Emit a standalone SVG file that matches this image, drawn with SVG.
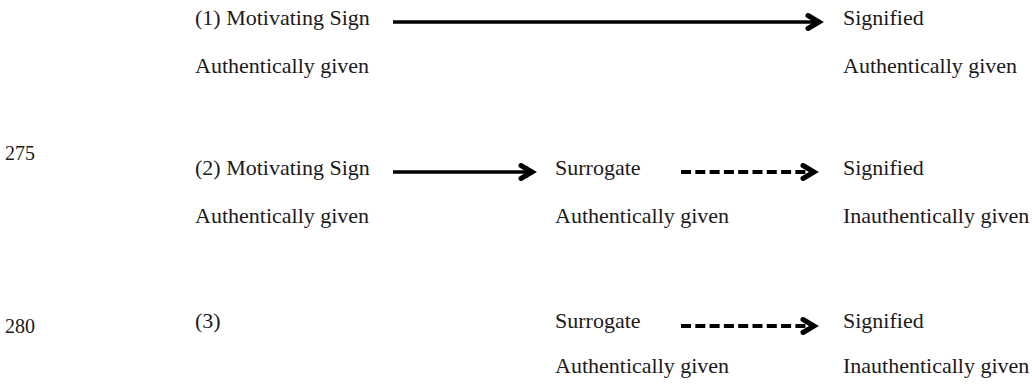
<svg xmlns="http://www.w3.org/2000/svg" width="1032" height="386" viewBox="0 0 1032 386">
  <style>
    .t { font-family: "Liberation Serif", "Times New Roman", serif; font-size: 22px; fill: #1a1a1a; }
    .ln { font-family: "Liberation Serif", "Times New Roman", serif; font-size: 20px; fill: #1a1a1a; }
    .solid { stroke: #000; stroke-width: 3.4; fill: none; }
    .dash { stroke: #000; stroke-width: 4; fill: none; stroke-dasharray: 10 4.3; }
  </style>
  <defs>
    <marker id="head" markerUnits="userSpaceOnUse" markerWidth="24" markerHeight="24" refX="17" refY="12" orient="auto" overflow="visible">
      <path d="M5,5.5 L16,12 L5,18.5" fill="none" stroke="#000" stroke-width="5" stroke-linejoin="miter" stroke-linecap="round" stroke-miterlimit="10"/>
    </marker>
  </defs>
  <rect width="1032" height="386" fill="#fff"/>

  <g id="line-numbers">
    <text class="ln" x="5" y="160">275</text>
    <text class="ln" x="5" y="333">280</text>
  </g>

  <g id="row1-sign">
    <text class="t" x="195" y="25">(1) Motivating Sign</text>
    <text class="t" x="195" y="73">Authentically given</text>
  </g>
  <g id="row1-signified">
    <text class="t" x="843" y="25">Signified</text>
    <text class="t" x="843" y="73">Authentically given</text>
  </g>

  <g id="row2-sign">
    <text class="t" x="195" y="175">(2) Motivating Sign</text>
    <text class="t" x="195" y="223">Authentically given</text>
  </g>
  <g id="row2-surrogate">
    <text class="t" x="555" y="175">Surrogate</text>
    <text class="t" x="555" y="223">Authentically given</text>
  </g>
  <g id="row2-signified">
    <text class="t" x="843" y="175">Signified</text>
    <text class="t" x="843" y="223">Inauthentically given</text>
  </g>

  <g id="row3-label">
    <text class="t" x="195" y="328">(3)</text>
  </g>
  <g id="row3-surrogate">
    <text class="t" x="555" y="328">Surrogate</text>
    <text class="t" x="555" y="373">Authentically given</text>
  </g>
  <g id="row3-signified">
    <text class="t" x="843" y="328">Signified</text>
    <text class="t" x="843" y="373">Inauthentically given</text>
  </g>

  <g id="connectors">
    <line class="solid" x1="393" y1="22" x2="820" y2="22" marker-end="url(#head)"/>
    <line class="solid" x1="393" y1="172" x2="533" y2="172" marker-end="url(#head)"/>
    <line class="dash" x1="681" y1="172" x2="815" y2="172" marker-end="url(#head)"/>
    <line class="dash" x1="681" y1="326" x2="815" y2="326" marker-end="url(#head)"/>
  </g>
</svg>
